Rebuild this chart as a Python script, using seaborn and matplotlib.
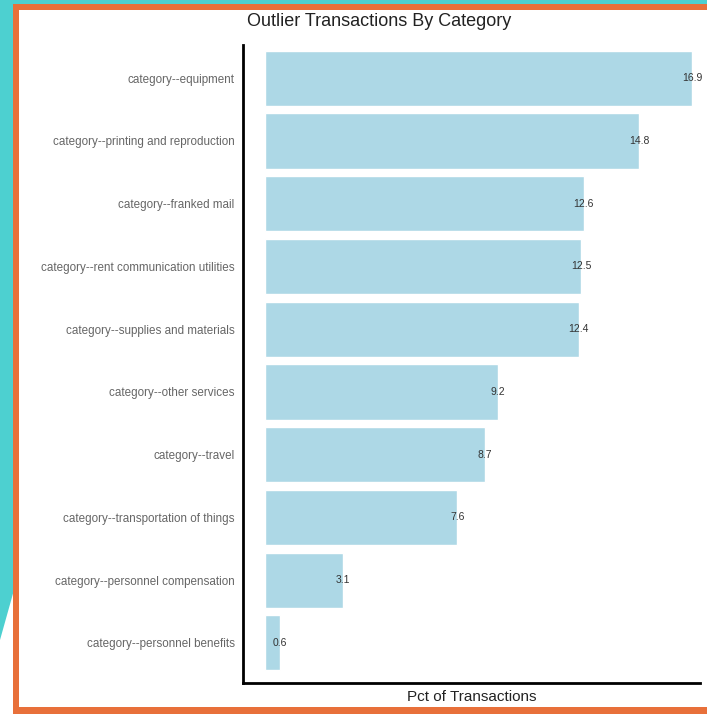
import matplotlib
matplotlib.use("Agg")
import matplotlib.pyplot as plt
import seaborn as sns
import pandas as pd
from matplotlib.patches import Rectangle, Polygon

categories = [
    "category--equipment",
    "category--printing and reproduction",
    "category--franked mail",
    "category--rent communication utilities",
    "category--supplies and materials",
    "category--other services",
    "category--travel",
    "category--transportation of things",
    "category--personnel compensation",
    "category--personnel benefits",
]
pct = [16.9, 14.8, 12.6, 12.5, 12.4, 9.2, 8.7, 7.6, 3.1, 0.6]
value_labels = ["16.9", "14.8", "12.6", "12.5", "12.4", "9.2", "8.7", "7.6", "3.1", "0.6"]

df = pd.DataFrame({"category": categories, "pct": pct})

sns.set_theme(style="white")
plt.rcParams["font.family"] = ["Liberation Sans", "DejaVu Sans"]

W, H = 707, 714
fig = plt.figure(figsize=(W / 100, H / 100), dpi=100)
fig.patch.set_facecolor("white")

def px(x, y):
    return (x / W, 1 - y / H)

teal = "#4dd0d0"
orange = "#e8703a"
fig.patches.append(Polygon([px(0, 0), px(707, 0), px(707, 6), px(14, 6), px(14, 590), px(0, 640)],
                           closed=True, transform=fig.transFigure, facecolor=teal, edgecolor="none", zorder=0))
x0, y0 = px(13, 714)
x1, y1 = px(707, 4)
fig.patches.append(Rectangle((x0, y0), x1 - x0, y1 - y0, transform=fig.transFigure,
                             facecolor=orange, edgecolor="none", zorder=1))
x0, y0 = px(19, 707)
x1, y1 = px(707, 10)
fig.patches.append(Rectangle((x0, y0), x1 - x0, y1 - y0, transform=fig.transFigure,
                             facecolor="white", edgecolor="none", zorder=2))

# axes region in pixels: left 243, right 700, top 45, bottom 683
l, t = px(243, 45)
r, b = px(700, 683)
ax = fig.add_axes([l, b, r - l, t - b])
ax.set_facecolor("none")
ax.set_zorder(3)

sns.barplot(data=df, x="pct", y="category", color="#add8e6", saturation=1,
            width=0.88, ax=ax, orient="h")

for i, (v, lab) in enumerate(zip(pct, value_labels)):
    ax.text(v, i, lab, ha="center", va="center", fontsize=7.5, color="#333333")

ax.set_xlim(-0.87, 17.2)
ax.set_ylim(9.64, -0.53)
ax.set_xticks([])
ax.set_ylabel("")
ax.set_xlabel("Pct of Transactions", fontsize=11, color="#222222", labelpad=5)
ax.tick_params(axis="y", length=0, pad=6, labelsize=8.4, labelcolor="#666666")
for s in ["top", "right"]:
    ax.spines[s].set_visible(False)
for s in ["left", "bottom"]:
    ax.spines[s].set_color("black")
    ax.spines[s].set_linewidth(2)

fig.text(379 / W, 1 - 22 / H, "Outlier Transactions By Category", ha="center", va="center",
         fontsize=13, color="#222222", zorder=4)

fig.savefig("out.png", dpi=100)
